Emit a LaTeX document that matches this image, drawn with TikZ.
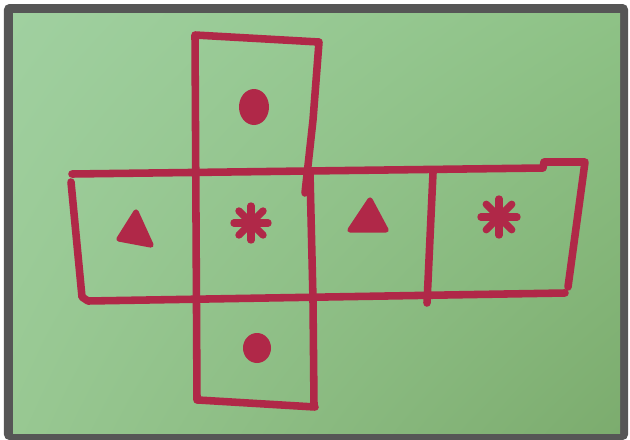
\documentclass[tikz,border=0pt]{standalone}
\usepackage{xcolor}
\usepackage{tikz}
\usetikzlibrary{calc,shadings}
\definecolor{marker}{RGB}{176,40,72}
\definecolor{frame}{RGB}{86,86,86}
\definecolor{paperTL}{RGB}{160,208,160}
\definecolor{paperTR}{RGB}{142,194,134}
\definecolor{paperBL}{RGB}{152,200,146}
\definecolor{paperBR}{RGB}{124,172,110}
\tikzset{
  pen/.style={draw=marker,line width=4.3pt,line cap=round,line join=round},
  blob/.style={fill=marker,draw=marker,line width=3pt,line join=round},
  arm/.style={draw=marker,line width=4.2pt,line cap=round}
}

\begin{document}
\begin{tikzpicture}[x=0.02cm,y=-0.02cm]
    \useasboundingbox (0,0) rectangle (630,440);
    \fill[frame,rounded corners=3pt] (4,4) rectangle (628,440);
    \shade[upper left=paperTL,upper right=paperTR,lower left=paperBL,lower right=paperBR]
      (13,13) rectangle (620,433);
    % net of the cube
    \draw[pen] (197,400) -- (195,35) -- (319,42) -- (313,120) -- (305,193);
    \draw[pen] (72,174) -- (543,168) -- (544,162) -- (585,162) -- (568,287);
    \draw[pen] (71,182) -- (82,297) -- (88,301) -- (565,293);
    \draw[pen] (310,173) -- (313,300) -- (314,405);
    \draw[pen] (433,173) -- (427,303);
    \draw[pen] (198,400) -- (315,407);
    % symbols
    \fill[marker] (254,107) ellipse [x radius=15,y radius=18];
    \fill[marker] (257,348) ellipse [x radius=14,y radius=15];
    \filldraw[blob] (136,212) -- (151,245) -- (119,239) -- cycle;
    \filldraw[blob] (370,200) -- (386,230) -- (350,230) -- cycle;
    \coordinate (starA) at (251,223);
    \coordinate (starB) at (499,217);
    \foreach \a in {0,45,90,135} {
      \draw[arm] (starA) ++(\a:17) -- ++(\a+180:34);
      \draw[arm] (starB) ++(\a:18) -- ++(\a+180:36);
    }
\end{tikzpicture}
\end{document}
